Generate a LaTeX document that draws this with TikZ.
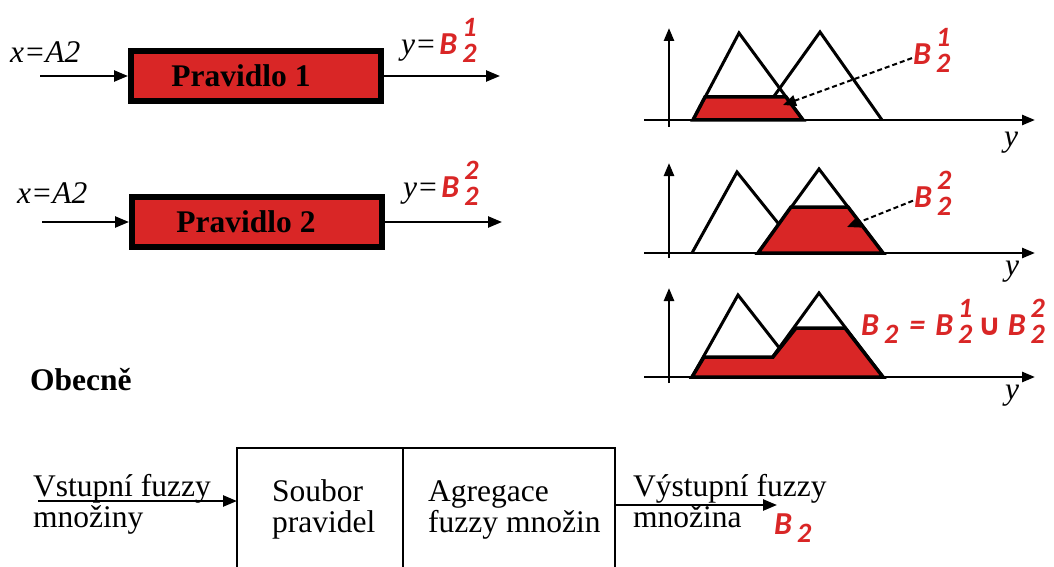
\documentclass[tikz,border=0pt]{standalone}
\usepackage{fontspec}
\setmainfont{Liberation Serif}
\newfontfamily\redfont{Carlito}
\newfontfamily\symfont{DejaVu Sans}
\usetikzlibrary{arrows.meta,positioning}
\definecolor{fuzzred}{RGB}{217,38,38}
\newcommand{\velke}{\fontsize{31.5}{31}\selectfont}
\newcommand{\Bmn}[2]{B\hspace{5pt}{\fontsize{28}{28}\selectfont\makebox[0pt][l]{\raisebox{18pt}{#1}}\raisebox{-8pt}{#2}}}

\begin{document}
\begin{tikzpicture}[x=1pt,y=-1pt,
  sipka/.style={line width=2.5pt,-{Triangle[length=14pt,width=11pt]}},
  osa/.style={line width=2.5pt,-{Triangle[length=13pt,width=10pt]}},
  pravidlo/.style={draw=black,fill=fuzzred,line width=6pt,minimum width=250pt,minimum height=50pt,font=\velke\bfseries},
  trojuh/.style={line width=3pt,line join=miter},
  plocha/.style={draw=black,fill=fuzzred,line width=3.5pt,line join=miter},
  carkovana/.style={line width=2pt,dash pattern=on 5pt off 3pt,-{Triangle[length=13pt,width=11pt]}},
  cervena/.style={text=fuzzred,font=\redfont\bfseries\itshape\fontsize{32}{32}\selectfont,inner sep=1pt},
  popis/.style={font=\velke,align=left,inner sep=0pt},
  blok/.style={draw=black,line width=2.5pt,outer sep=0pt}]
  \useasboundingbox (0,0) rectangle (1054,567);

  % pravidla
  \node[pravidlo] (p1) at (256,76) {Pravidlo 1\hspace*{30pt}};
  \node[pravidlo] (p2) at (257,222) {Pravidlo 2\hspace*{22pt}};
  \coordinate (in1) at (40,76);
  \coordinate (in2) at (42,222);
  \coordinate (out1) at (500,76);
  \coordinate (out2) at (502,222);
  \draw[sipka] (in1) -- (p1);
  \draw[sipka] (in2) -- (p2);
  \draw[sipka] (p1) -- (out1);
  \draw[sipka] (p2) -- (out2);
  \node[popis,anchor=base west] (x1) at (10,63) {\itshape x=A2};
  \node[popis,anchor=base west] (x2) at (17,203) {\itshape x=A2};
  \node[popis,anchor=base west] (y1) at (401,55)
    {\itshape y=\hspace{3pt}\textcolor{fuzzred}{\redfont\bfseries\fontsize{32}{32}\selectfont\Bmn{1}{2}}};
  \node[popis,anchor=base west] (y2) at (403,197)
    {\itshape y=\hspace{3pt}\textcolor{fuzzred}{\redfont\bfseries\fontsize{32}{32}\selectfont\Bmn{2}{2}}};

  % graf 1
  \draw[osa] (644,120) -- (1035,120);
  \draw[osa] (669,127) -- (669,28);
  \draw[trojuh] (693,120) -- (739,33) -- (803,120);
  \draw[trojuh] (757,120) -- (820,32) -- (882,120);
  \draw[plocha] (693,120) -- (705,97) -- (786,97) -- (803,120) -- cycle;
  \node[cervena,anchor=base west] (lab1) at (912,65) {\Bmn{1}{2}};
  \coordinate (c1) at (783,105);
  \draw[carkovana] (lab1) -- (c1);
  \node[popis,font=\velke\itshape] (ya) at (1011,143) {y};

  % graf 2
  \draw[osa] (644,253) -- (1035,253);
  \draw[osa] (669,258) -- (669,163);
  \draw[trojuh] (692,253) -- (737,172) -- (802,253);
  \draw[trojuh] (758,253) -- (819,169) -- (883,253);
  \draw[plocha] (758,253) -- (791,207) -- (848,207) -- (883,253) -- cycle;
  \node[cervena,anchor=base west] (lab2) at (913,207) {\Bmn{2}{2}};
  \coordinate (c2) at (847,227);
  \draw[carkovana] (lab2) -- (c2);
  \node[popis,font=\velke\itshape] (yb) at (1012,272) {y};

  % graf 3
  \draw[osa] (644,377) -- (1035,377);
  \draw[osa] (669,383) -- (669,288);
  \draw[trojuh] (692,377) -- (738,295) -- (802,377);
  \draw[trojuh] (758,377) -- (819,293) -- (883,377);
  \draw[plocha] (692,377) -- (704,357) -- (773,357) -- (796,328) -- (845,328) -- (883,377) -- cycle;
  \node[cervena,anchor=base west] (lab3) at (860,335)
    {\Bmn{}{2}\hspace{11pt}=\hspace{10pt}\Bmn{1}{2}\hspace{5pt}{\symfont\bfseries\fontsize{30}{30}\selectfont ∪}\hspace{6pt}\Bmn{2}{2}};
  \node[popis,font=\velke\itshape] (yc) at (1012,396) {y};

  \node[popis,anchor=base west,font=\velke\bfseries] (obecne) at (30,390) {Obecně};

  % obecne schema
  \node[blok,anchor=north west,minimum width=166pt,minimum height=160pt] (soubor) at (237,448) {};
  \node[blok,anchor=north west,minimum width=212pt,minimum height=160pt] (agregace) at (soubor.north east) {};
  \node[popis,anchor=base west] (t1) at (272,532) {Soubor\\pravidel};
  \node[popis,anchor=base west] (t2) at (428,532) {Agregace\\fuzzy množin};
  \node[popis,anchor=base west] (vst) at (33,527) {Vstupní fuzzy\\množiny};
  \node[popis,anchor=base west] (vys) at (633,527) {Výstupní fuzzy\\množina};
  \coordinate (vstup) at (38,501);
  \coordinate (vystup) at (777,505);
  \draw[sipka] (vstup) -- (vstup -| soubor.west);
  \draw[sipka] (agregace.east |- vystup) -- (vystup);
  \node[cervena,anchor=base west] (lab4) at (773,534) {\Bmn{}{2}};
\end{tikzpicture}
\end{document}
